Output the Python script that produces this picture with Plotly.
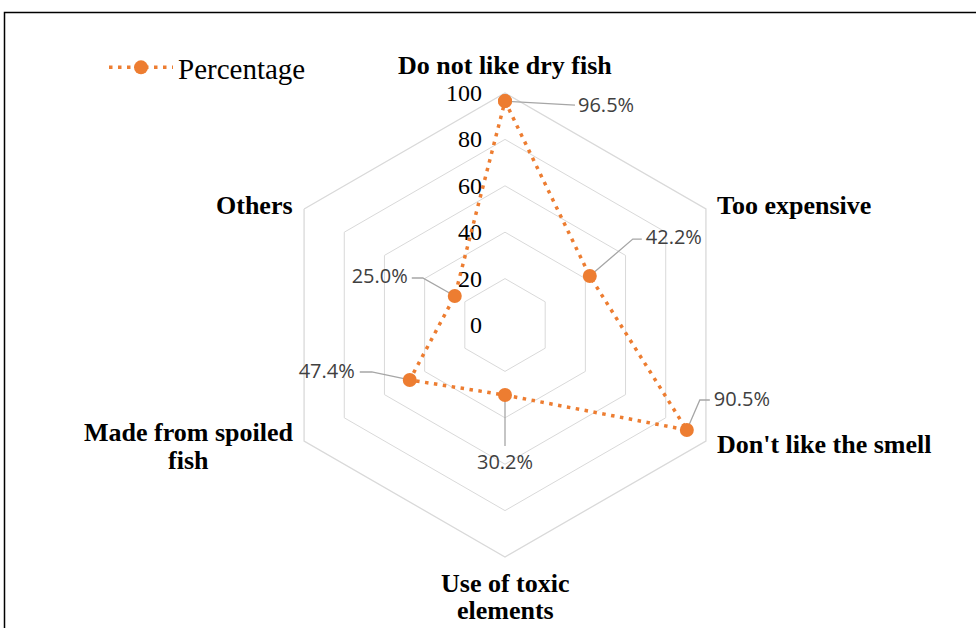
import math
import plotly.graph_objects as go

categories = ["Do not like dry fish", "Too expensive", "Don't like the smell",
              "Use of toxic elements", "Made from spoiled fish", "Others"]
category_lines = [["Do not like dry fish"], ["Too expensive"], ["Don't like the smell"],
                  ["Use of toxic", "elements"], ["Made from spoiled", "fish"], ["Others"]]
values = [96.5, 42.2, 90.5, 30.2, 47.4, 25.0]
value_labels = ["96.5%", "42.2%", "90.5%", "30.2%", "47.4%", "25.0%"]
radial_ticks = [0, 20, 40, 60, 80, 100]
series_name = "Percentage"

# angles (clockwise from top) for each category
angles = [i * 360 / len(categories) for i in range(len(categories))]

# layout geometry
W, H = 976, 628
CX, CY, R = 505, 325, 232
PX_PER_UNIT = R / 100.0

# leader line elbows (pixels, dx right / dy down) relative to each point
leader_offsets = [
    [(70, 4)],
    [(43, -37), (52, -37)],
    [(13, -30), (23, -30)],
    [(0, 51)],
    [(-38, -8), (-50, -8)],
    [(-32, -18), (-43, -18)],
]
# label anchor offsets relative to each point, and text position
label_anchor = [(73, 6), (56, -37), (27, -29), (0, 59), (-55, -7), (-47, -18)]
label_pos = ["middle right", "middle right", "middle right", "bottom center",
             "middle left", "middle left"]

# category label placement relative to each outer vertex: (dx, dy per line, xanchor)
cat_place = [
    (0, [-28], ["center"]),
    (9, [-4], ["left"]),
    (9, [4], ["left"]),
    (0, [26, 53], ["center", "center"]),
    (-9, [-9, 19], ["right", "center"]),
    (-9, [-4], ["right"]),
]


def offset_polar(r, theta, dx, dy):
    t = math.radians(theta)
    x = r * math.sin(t) + dx / PX_PER_UNIT
    y = r * math.cos(t) - dy / PX_PER_UNIT
    return math.hypot(x, y), math.degrees(math.atan2(x, y)) % 360


def to_paper(r, theta, dx=0, dy=0):
    t = math.radians(theta)
    px = CX + r * PX_PER_UNIT * math.sin(t) + dx
    py = CY - r * PX_PER_UNIT * math.cos(t) + dy
    return px / W, 1 - py / H


fig = go.Figure()

ORANGE = "#ED7D31"
LEADER = "#A6A6A6"

# background polar: hexagonal grid
fig.add_trace(go.Scatterpolar(r=values, theta=categories, mode="lines",
                              line=dict(width=0), opacity=0,
                              showlegend=False, hoverinfo="skip", subplot="polar"))

# radial tick labels
tr, tt = [], []
for v in radial_ticks:
    r2, t2 = offset_polar(v, 0, -23, 2)
    tr.append(r2)
    tt.append(t2)
fig.add_trace(go.Scatterpolar(r=tr, theta=tt, mode="text", text=[str(v) for v in radial_ticks],
                              textposition="middle left", cliponaxis=False,
                              textfont=dict(family="Liberation Serif", size=24, color="black"),
                              showlegend=False, hoverinfo="skip", subplot="polar2"))

for v, a, offs in zip(values, angles, leader_offsets):
    rs, ts = [v], [a]
    for dx, dy in offs:
        r2, t2 = offset_polar(v, a, dx, dy)
        rs.append(r2)
        ts.append(t2)
    fig.add_trace(go.Scatterpolar(r=rs, theta=ts, mode="lines",
                                  line=dict(color=LEADER, width=1.3), cliponaxis=False,
                                  showlegend=False, hoverinfo="skip", subplot="polar2"))

lr, lt = [], []
for v, a, (dx, dy) in zip(values, angles, label_anchor):
    r2, t2 = offset_polar(v, a, dx, dy)
    lr.append(r2)
    lt.append(t2)
fig.add_trace(go.Scatterpolar(r=lr, theta=lt, mode="text", text=value_labels,
                              textposition=label_pos, cliponaxis=False,
                              textfont=dict(family="Open Sans", size=20, color="#404040"),
                              showlegend=False, hoverinfo="skip", subplot="polar2"))

fig.add_trace(go.Scatterpolar(
    r=values + [values[0]], theta=angles + [angles[0]], mode="lines+markers",
    name=series_name, cliponaxis=False, subplot="polar2",
    line=dict(color=ORANGE, width=3.5, dash="3.5px,5.5px"),
    marker=dict(color=ORANGE, size=14),
))

annotations = []
for a, lines, (dx, dys, anchors) in zip(angles, category_lines, cat_place):
    for i, (line, dy, anc) in enumerate(zip(lines, dys, anchors)):
        x, y = to_paper(100, a, dx, dy)
        if i > 0 and anc == "center" and anchors[0] == "right":
            # center continuation line under the first (right-aligned) line
            x = (CX + 100 * PX_PER_UNIT * math.sin(math.radians(a)) + dx - 107) / W
        annotations.append(dict(text="<b>%s</b>" % line, x=x, y=y, xref="paper", yref="paper",
                                xanchor=anc, yanchor="middle", showarrow=False,
                                font=dict(family="Liberation Serif", size=26, color="black")))

dom_x = [(CX - R) / W, (CX + R) / W]
dom_y = [(H - CY - R) / H, (H - CY + R) / H]

fig.update_layout(
    width=W, height=H,
    margin=dict(l=0, r=0, t=0, b=0),
    paper_bgcolor="white",
    showlegend=True,
    legend=dict(x=104 / W, y=1 - 42 / H, xanchor="left", yanchor="top",
                font=dict(family="Liberation Serif", size=29, color="black"),
                bgcolor="rgba(0,0,0,0)", itemwidth=64),
    annotations=annotations,
    polar=dict(
        domain=dict(x=dom_x, y=dom_y),
        bgcolor="white",
        gridshape="linear",
        radialaxis=dict(range=[0, 100], tickvals=radial_ticks, angle=90,
                        showline=False, showticklabels=False,
                        gridcolor="#D9D9D9", gridwidth=1.3, ticks=""),
        angularaxis=dict(categoryorder="array", categoryarray=categories,
                         rotation=90, direction="clockwise", showgrid=False,
                         showline=True, linecolor="#D9D9D9", linewidth=1.3,
                         ticks="", showticklabels=False),
    ),
    polar2=dict(
        domain=dict(x=dom_x, y=dom_y),
        bgcolor="rgba(0,0,0,0)",
        radialaxis=dict(range=[0, 100], visible=False),
        angularaxis=dict(rotation=90, direction="clockwise", visible=False),
    ),
    shapes=[dict(type="rect", xref="paper", yref="paper",
                 x0=4.5 / W, x1=1.02, y0=-0.02, y1=1 - 12.5 / H,
                 line=dict(color="black", width=1.5), fillcolor="rgba(0,0,0,0)")],
)

fig.write_html("out.html")
